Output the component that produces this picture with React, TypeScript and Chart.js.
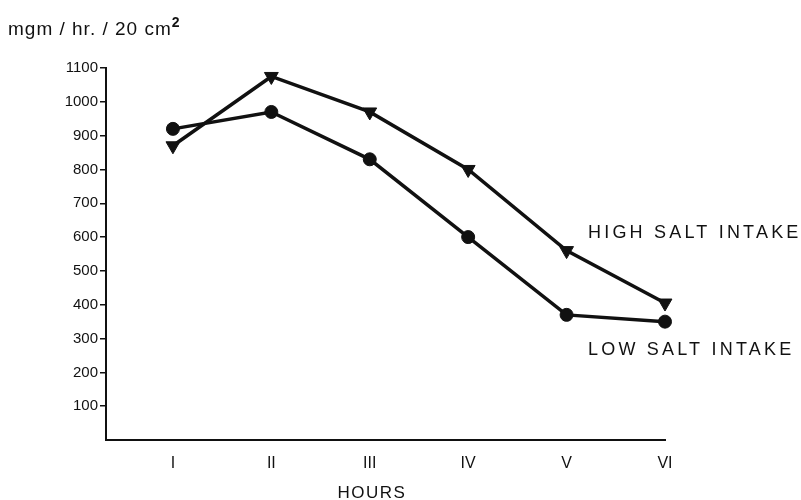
import React, { useEffect, useRef } from "react";
import { Chart, registerables } from "chart.js";

Chart.register(...registerables);

const hours = ["I", "II", "III", "IV", "V", "VI"];
const hourPositions = [1, 2, 3, 4, 5, 6];
const highSalt = [870, 1075, 970, 800, 560, 405];
const lowSalt = [920, 970, 830, 600, 370, 350];
const yTickValues = [100, 200, 300, 400, 500, 600, 700, 800, 900, 1000, 1100];

const FONT = "'Liberation Sans', 'DejaVu Sans', sans-serif";

const textPlugin = {
  id: "annotText",
  afterDraw(chart: any) {
    const ctx = chart.ctx as CanvasRenderingContext2D;
    ctx.save();
    ctx.fillStyle = "#111";
    ctx.textBaseline = "alphabetic";
    ctx.textAlign = "left";
    // y-axis unit title
    ctx.font = `19px ${FONT}`;
    (ctx as any).letterSpacing = "1px";
    const main = "mgm / hr. / 20 cm";
    ctx.fillText(main, 8, 35);
    const w = ctx.measureText(main).width;
    ctx.font = `bold 14px ${FONT}`;
    ctx.fillText("2", 8 + w, 27);
    // series labels
    ctx.font = `18px ${FONT}`;
    (ctx as any).letterSpacing = "3.2px";
    ctx.fillText("HIGH SALT INTAKE", 588, 238);
    ctx.fillText("LOW SALT INTAKE", 588, 355);
    // x-axis title
    ctx.textAlign = "center";
    ctx.font = `17px ${FONT}`;
    (ctx as any).letterSpacing = "1.5px";
    ctx.fillText("HOURS", 372, 498);
    ctx.restore();
  },
};

export default function App() {
  const ref = useRef<HTMLCanvasElement>(null);
  useEffect(() => {
    if (!ref.current) return;
    const chart = new Chart(ref.current, {
      type: "line",
      data: {
        datasets: [
          {
            label: "HIGH SALT INTAKE",
            data: hourPositions.map((x, i) => ({ x, y: highSalt[i] })),
            borderColor: "#111",
            backgroundColor: "#111",
            borderWidth: 3.5,
            pointStyle: "triangle",
            rotation: 180,
            pointRadius: 8,
            pointBorderWidth: 1,
            tension: 0,
            clip: false as any,
          },
          {
            label: "LOW SALT INTAKE",
            data: hourPositions.map((x, i) => ({ x, y: lowSalt[i] })),
            borderColor: "#111",
            backgroundColor: "#111",
            borderWidth: 3.5,
            pointStyle: "circle",
            pointRadius: 6.5,
            pointBorderWidth: 1,
            tension: 0,
            clip: false as any,
          },
        ],
      },
      options: {
        animation: false,
        responsive: false,
        layout: { padding: { left: 0, top: 68, right: 136, bottom: 0 } },
        plugins: { legend: { display: false }, tooltip: { enabled: false }, title: { display: false } },
        scales: {
          x: {
            type: "linear",
            min: 0.32,
            max: 6,
            afterBuildTicks: (s: any) => {
              s.ticks = hourPositions.map((v) => ({ value: v }));
            },
            afterFit: (s: any) => {
              s.height = 60;
            },
            ticks: {
              color: "#111",
              font: { family: FONT, size: 16 },
              padding: 14,
              callback: (v: any) => {
                const i = hourPositions.indexOf(Number(v));
                return i >= 0 ? hours[i] : "";
              },
            },
            grid: { display: true, drawOnChartArea: false, drawTicks: false, color: "transparent" },
            border: { display: true, color: "#111", width: 2 },
          },
          y: {
            type: "linear",
            min: 0,
            max: 1100,
            afterBuildTicks: (s: any) => {
              s.ticks = yTickValues.map((v) => ({ value: v }));
            },
            afterFit: (s: any) => {
              s.width = 106;
            },
            ticks: {
              color: "#111",
              font: { family: FONT, size: 15 },
              padding: 2,
              callback: (v: any) => String(v),
            },
            grid: { display: true, drawOnChartArea: false, drawTicks: true, tickLength: 6, color: "#111", lineWidth: 1.5 },
            border: { display: true, color: "#111", width: 2 },
          },
        },
      },
      plugins: [textPlugin],
    });
    return () => chart.destroy();
  }, []);
  return (
    <div style={{ position: "fixed", left: 0, top: 0, width: 801, height: 500, background: "#fff" }}>
      <canvas ref={ref} width={801} height={500} style={{ width: 801, height: 500 }} />
    </div>
  );
}
